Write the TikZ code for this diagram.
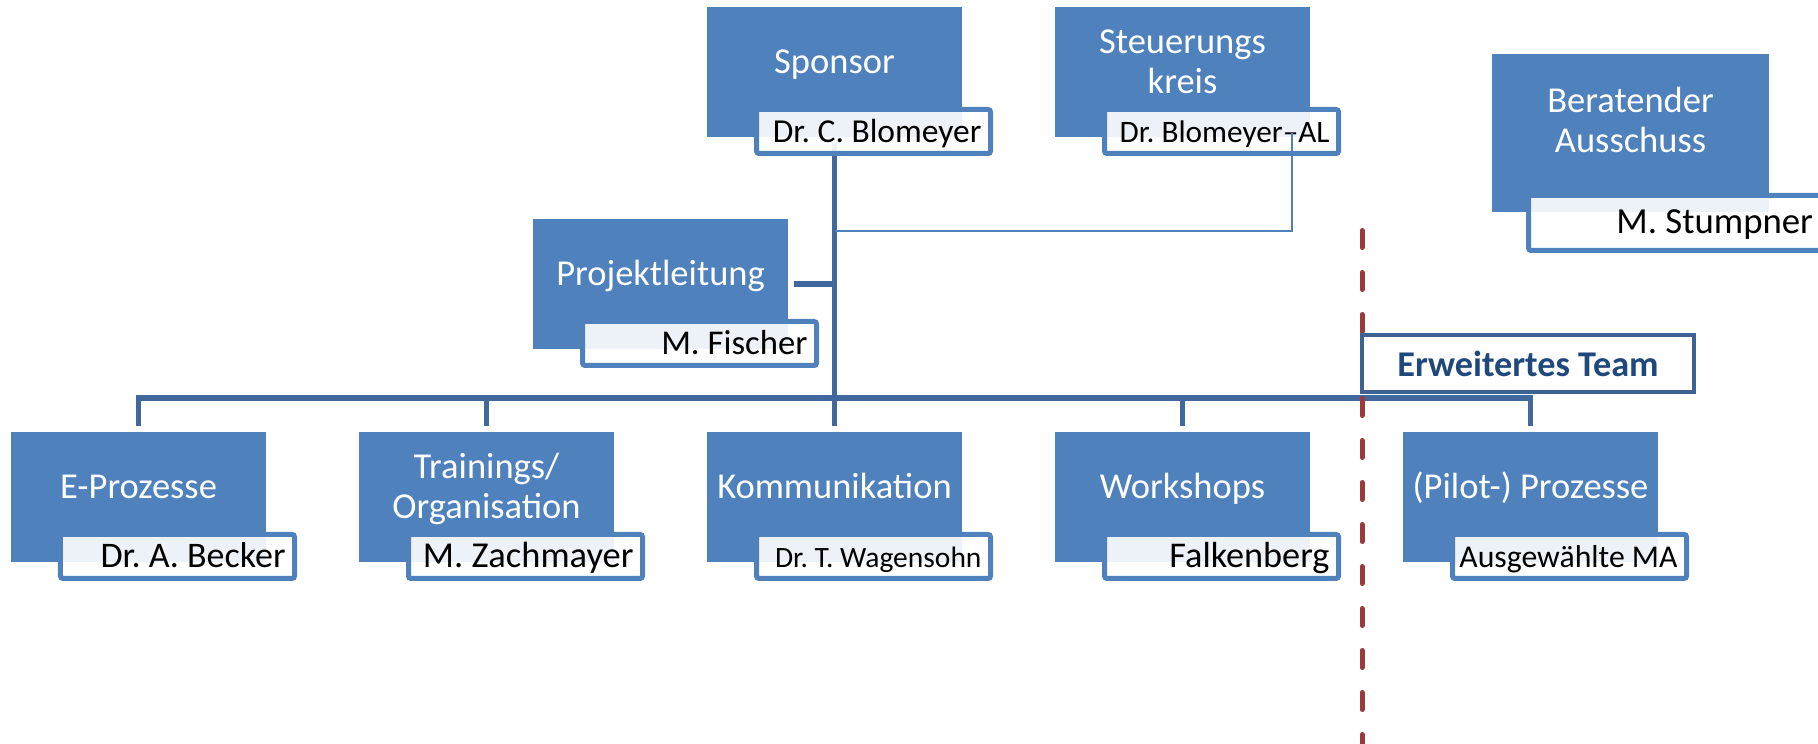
\documentclass[tikz,border=0pt]{standalone}
\usepackage{fontspec}
\setmainfont{Carlito}
\frenchspacing
\definecolor{boxblue}{RGB}{79,129,189}
\definecolor{linedark}{RGB}{65,104,156}
\definecolor{redd}{RGB}{155,58,56}
\definecolor{etborder}{RGB}{60,98,148}
\definecolor{ettext}{RGB}{31,73,125}
\newcommand\twolines[2]{\begin{tabular}[t]{@{}c@{}}#1\\#2\end{tabular}}
\newcommand\labtxt[2][86.4pt]{\makebox[#1][r]{#2}}
\begin{document}
\begin{tikzpicture}[x=0.4pt,y=-0.4pt,
  mainbox/.style={fill=boxblue, draw=none, minimum width=102pt, minimum height=52pt, inner sep=0pt, outer sep=0pt},
  bigbox/.style={mainbox, minimum width=110.8pt, minimum height=63.2pt},
  mtext/.style={text=white, font=\fontsize{14.6}{16}\selectfont, anchor=base, inner sep=0pt},
  lbl/.style={draw=boxblue, line width=2pt, fill=white, fill opacity=0.9, text opacity=1,
    minimum width=93.6pt, minimum height=17.6pt, inner sep=0pt,
    text height=8.8pt, text depth=0pt, rounded corners=1pt},
  thickline/.style={draw=linedark, line width=2.2pt},
  thinline/.style={draw=boxblue, line width=0.8pt},
  reddash/.style={draw=redd, line width=2pt, line cap=round, dash pattern=on 6.8pt off 10pt},
  etbox/.style={draw=etborder, line width=1.6pt, fill=white, minimum width=132.8pt, minimum height=22.8pt,
    inner sep=0pt, text=ettext, font=\fontsize{14.5}{16}\selectfont\bfseries}
]
\fill[white] (0,0) rectangle (1818,744);
\useasboundingbox (0,0) rectangle (1818,744);

% main boxes
\node[mainbox] (sponsor) at (834.5,72) {};
\node[mainbox] (steuer) at (1182.5,72) {};
\node[bigbox] (berat) at (1630.5,133) {};
\node[mainbox] (projekt) at (660.5,284) {};
\node[mainbox] (eproz) at (138.5,497) {};
\node[mainbox] (train) at (486.5,497) {};
\node[mainbox] (komm) at (834.5,497) {};
\node[mainbox] (work) at (1182.5,497) {};
\node[mainbox] (pilot) at (1530.5,497) {};

% main texts
\node[mtext] (sponsorT) at ([yshift=-0.6pt]sponsor.center) {Sponsor};
\node[mtext] (steuerT) at ([yshift=7.4pt]steuer.center) {\twolines{Steuerungs}{kreis}};
\node[mtext] (beratT) at ([yshift=8.2pt]berat.center) {\twolines{Beratender}{Ausschuss}};
\node[mtext] (projektT) at ([yshift=-0.6pt]projekt.center) {Projektleitung};
\node[mtext] (eprozT) at ([yshift=-0.6pt]eproz.center) {E-Prozesse};
\node[mtext] (trainT) at ([yshift=7.4pt]train.center) {\twolines{Trainings/}{Organisation}};
\node[mtext] (kommT) at ([yshift=-0.6pt]komm.center) {Kommunikation};
\node[mtext] (workT) at ([yshift=-0.6pt]work.center) {Workshops};
\node[mtext] (pilotT) at ([yshift=-0.6pt]pilot.center) {(Pilot-) Prozesse};

% thick connectors
\coordinate (bus) at (0,398);
\coordinate (vtop) at (834.5,143);
\draw[thickline] (vtop) -- ([yshift=2.4pt]komm.north);
\draw[thickline] ([yshift=2.4pt]eproz.north) -- (eproz.north |- bus) -- (pilot.north |- bus) -- ([yshift=2.4pt]pilot.north);
\draw[thickline] (train.north |- bus) -- ([yshift=2.4pt]train.north);
\draw[thickline] (work.north |- bus) -- ([yshift=2.4pt]work.north);
\draw[thickline] ([xshift=2.4pt]projekt.east) -- (projekt.east -| komm.north);

% labels
\node[lbl, font=\fontsize{13.4}{13.4}\selectfont] (sponsorL) at ([shift={(39,59.5)}]sponsor.center) {\labtxt{Dr. C. Blomeyer}};
\node[lbl, font=\fontsize{12.5}{12.5}\selectfont] (steuerL) at ([shift={(39,59.5)}]steuer.center) {\labtxt{Dr. Blomeyer–AL}};
\node[lbl, font=\fontsize{13.9}{13.9}\selectfont] (projektL) at ([shift={(39,59.5)}]projekt.center) {\labtxt{M. Fischer}};
\node[lbl, font=\fontsize{14.4}{14.4}\selectfont] (eprozL) at ([shift={(39,59.5)}]eproz.center) {\labtxt{Dr. A. Becker}};
\node[lbl, font=\fontsize{14.6}{14.6}\selectfont] (trainL) at ([shift={(39,59.5)}]train.center) {\labtxt{M. Zachmayer}};
\node[lbl, font=\fontsize{11.8}{11.8}\selectfont] (kommL) at ([shift={(39,59.5)}]komm.center) {\labtxt{Dr. T. Wagensohn}};
\node[lbl, font=\fontsize{14.5}{14.5}\selectfont] (workL) at ([shift={(39,59.5)}]work.center) {\labtxt{Falkenberg}};
\node[lbl, font=\fontsize{12.7}{12.7}\selectfont] (pilotL) at ([shift={(39,59.5)}]pilot.center) {\labtxt{Ausgewählte MA}};
\node[lbl, font=\fontsize{14.7}{14.7}\selectfont, minimum width=120.6pt, minimum height=22pt]
  (beratL) at (1679.25,223) {\labtxt[107pt]{M. Stumpner}};

% thin connector to Steuerungskreis
\coordinate (skTap) at (1292,133);
\draw[thinline] (sponsor.center |- 0,231) -| (skTap);

% divider
\draw[reddash] (1362,230.5) -- (1362,760);

% extended team
\node[etbox] (et) at (1528,363.5) {Erweitertes Team};
\end{tikzpicture}
\end{document}
